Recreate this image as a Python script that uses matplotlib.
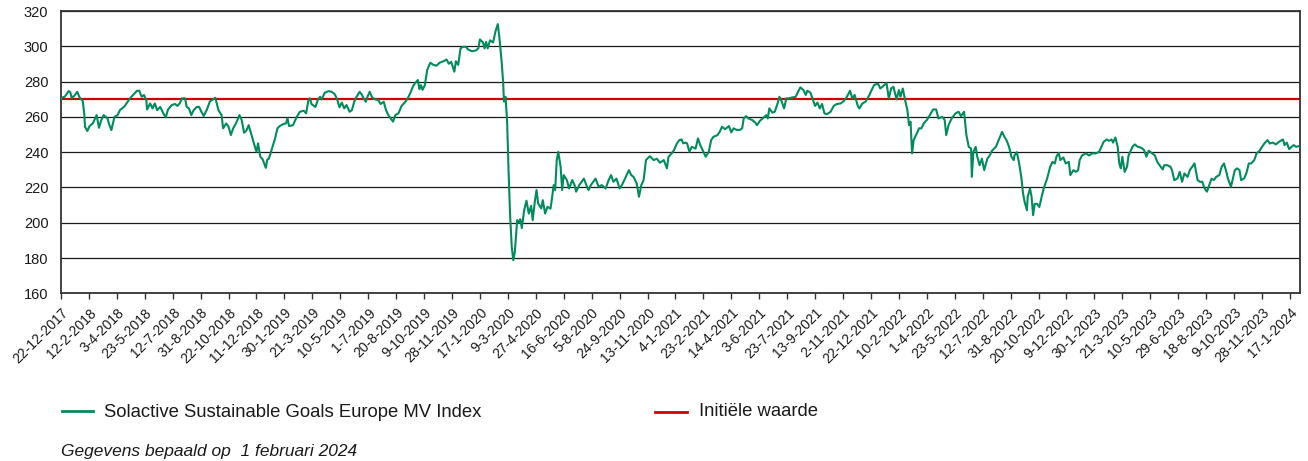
import matplotlib
matplotlib.use("Agg")
import matplotlib.pyplot as plt
from matplotlib.lines import Line2D
import pandas as pd

plt.rcParams['font.family'] = ['Liberation Sans', 'DejaVu Sans']

# ---------------- data ----------------
start_date = "2017-12-22"
end_date = "2024-02-01"
initial_value = 270
series_label = "Solactive Sustainable Goals Europe MV Index"
initial_label = "Initiële waarde"
footnote = "Gegevens bepaald op  1 februari 2024"

# trading-day number (business days since 22-12-2017) and index level
trading_day = [
    0, 2, 5, 10, 12, 14, 18, 21, 24, 28, 30, 31, 34, 37, 41, 46, 49, 52, 55, 60,
    62, 65, 67, 69, 73, 76, 82, 89, 93, 98, 101, 104, 107, 110, 111, 115, 118, 121, 124, 128,
    132, 135, 138, 143, 147, 150, 153, 156, 160, 162, 165, 168, 171, 175, 178, 181, 184, 188, 192, 196,
    199, 203, 207, 209, 213, 216, 219, 222, 226, 230, 233, 236, 239, 242, 246, 250, 252, 254, 257, 260,
    264, 266, 268, 272, 276, 279, 282, 287, 290, 292, 294, 299, 304, 308, 313, 316, 319, 321, 323, 328,
    331, 334, 336, 340, 345, 349, 353, 356, 359, 362, 365, 368, 372, 375, 378, 381, 385, 388, 390, 393,
    395, 398, 401, 405, 409, 412, 416, 419, 422, 425, 428, 431, 435, 439, 444, 448, 450, 454, 456, 460,
    462, 464, 466, 469, 472, 476, 480, 484, 488, 493, 497, 500, 503, 505, 507, 509, 512, 515, 518, 522,
    525, 530, 535, 538, 540, 544, 546, 548, 550, 553, 557, 560, 563, 565, 568, 570, 571, 573, 575, 577,
    579, 581, 583, 585, 588, 590, 592, 594, 597, 600, 603, 606, 608, 611, 613, 615, 619, 621, 624, 627,
    631, 633, 635, 637, 639, 641, 644, 646, 648, 652, 655, 659, 662, 664, 668, 674, 678, 680, 683, 689,
    693, 697, 702, 706, 709, 712, 716, 720, 723, 727, 732, 735, 738, 742, 745, 748, 751, 754, 759, 764,
    768, 772, 777, 781, 783, 787, 790, 794, 797, 800, 802, 805, 807, 810, 813, 818, 821, 824, 828, 831,
    835, 838, 841, 846, 849, 852, 856, 861, 864, 867, 871, 875, 878, 880, 883, 886, 891, 895, 897, 901,
    906, 909, 911, 913, 917, 920, 923, 926, 929, 932, 935, 938, 942, 947, 950, 953, 957, 960, 962, 966,
    969, 972, 975, 978, 981, 984, 987, 992, 996, 1000, 1005, 1009, 1013, 1017, 1020, 1023, 1027, 1029, 1033, 1037,
    1042, 1045, 1048, 1053, 1056, 1060, 1064, 1067, 1070, 1073, 1077, 1080, 1082, 1085, 1088, 1091, 1093, 1095, 1097, 1099,
    1103, 1106, 1109, 1112, 1116, 1120, 1124, 1128, 1131, 1136, 1139, 1141, 1144, 1148, 1153, 1157, 1160, 1164, 1167, 1170,
    1173, 1174, 1176, 1179, 1181, 1184, 1187, 1190, 1194, 1197, 1200, 1205, 1209, 1213, 1216, 1219, 1222, 1225, 1228, 1229,
    1232, 1235, 1238, 1240, 1242, 1245, 1246, 1249, 1251, 1253, 1255, 1258, 1261, 1265, 1268, 1271, 1275, 1278, 1281, 1283,
    1286, 1288, 1292, 1295, 1299, 1301, 1305, 1308, 1311, 1313, 1316, 1321, 1325, 1329, 1334, 1338, 1341, 1344, 1348, 1351,
    1354, 1356, 1359, 1362, 1364, 1366, 1368, 1371, 1374, 1376, 1381, 1384, 1388, 1392, 1396, 1399, 1402, 1406, 1410, 1413,
    1416, 1420, 1422, 1426, 1430, 1432, 1435, 1439, 1442, 1445, 1448, 1452, 1455, 1458, 1461, 1465, 1468, 1471, 1474, 1477,
    1480, 1483, 1486, 1489, 1493, 1496, 1499, 1502, 1504, 1508, 1510, 1513, 1516, 1519, 1521, 1525, 1528, 1531, 1534, 1538,
    1541, 1545, 1548, 1551, 1555, 1558, 1562, 1566, 1570, 1575, 1577, 1580, 1583, 1586, 1589, 1592, 1595,
]
index_value = [
    270, 271, 271.5, 274.6, 274, 270.5, 272.4, 274.2, 271, 269.1, 262, 254.4, 252, 254.8, 256.3, 261, 253.8, 258.2, 261, 259.1,
    256, 252.5, 256.3, 260, 261, 263.8, 266, 270.5, 272.4, 274.8, 274.8, 271.4, 272.4, 269.5, 264.2, 267.6, 264.8, 267.6, 263.8, 265.6,
    262, 259.7, 264.2, 266.7, 267.3, 266.2, 267.6, 270.5, 270.5, 265.7, 264.8, 261, 263.8, 265.6, 265.7, 262.9, 260.5, 264, 268.8, 269.9,
    270.8, 263.8, 261, 253.5, 256.3, 254.4, 249.7, 253.5, 256.7, 261, 258.2, 251, 252.3, 255.3, 249.1, 243, 240.2, 245, 237.4, 235.9,
    231.1, 235.9, 236.3, 242.1, 247.8, 253.5, 254.8, 256, 256.3, 259.1, 254.8, 255.3, 260, 262.9, 263.5, 262, 269.5, 270.5, 267.2, 265.6,
    269.5, 271.4, 269.9, 273.7, 274.6, 274.2, 272.8, 269.9, 265.4, 268.1, 264.8, 266.7, 262.9, 263.8, 268.6, 271.4, 274.2, 272.4, 270.5, 268.6,
    271.4, 274.2, 271, 269.9, 269.5, 267.3, 268.6, 263.8, 261, 259.1, 257.3, 261, 262, 266.2, 268.6, 271.4, 273.3, 277.5, 278.9, 280.9,
    275.7, 278, 275.3, 278, 286.5, 290.7, 289.5, 289, 290.7, 291.5, 292.5, 290.1, 291.2, 288.3, 285.6, 291.5, 289.5, 298.8, 299.7, 299.7,
    298.1, 297.2, 297.7, 298.8, 303.9, 302.2, 298.8, 302.5, 298.8, 303.4, 302.2, 308.3, 312.6, 305.4, 291.2, 279, 268.6, 271.4, 258.2, 228,
    203.3, 186.3, 178.8, 183.5, 201.5, 200, 202, 197, 207, 212.5, 205.2, 209.6, 201.5, 212.8, 218.5, 211, 208.1, 212.8, 205.2, 209,
    208, 214.2, 221.3, 218.5, 235.5, 240.2, 231.7, 218.5, 227, 224.2, 219.4, 224.2, 221.3, 217.6, 221.3, 225, 220.4, 218.5, 221.3, 225,
    220.4, 221.3, 219.4, 224.2, 227, 223.2, 225, 219.4, 221.3, 225, 229.8, 227, 226, 222.3, 214.7, 221.3, 224.2, 235.5, 237.7, 235.5,
    236.3, 234, 235.5, 230.8, 237.2, 239.3, 241, 245, 246.8, 247.2, 245, 245.4, 245, 240.2, 243, 242, 247.8, 244, 240.2, 237.4,
    240.2, 246.8, 248.7, 249.6, 251.5, 254.4, 253, 254.8, 251.2, 253.5, 252.6, 252.6, 253.5, 259.1, 260.4, 259.1, 258.2, 256.7, 255.3, 257.8,
    259.7, 261, 259.1, 264.8, 262.4, 262.9, 266.7, 271.4, 268.6, 264.8, 270.5, 270.5, 271, 271.4, 274.2, 276.7, 275.2, 272.4, 274.8, 273.7,
    269.9, 266.2, 268.1, 264.8, 267.3, 262, 261.5, 262.9, 266.2, 267.3, 267.6, 269, 271.4, 274.8, 270.5, 272.4, 266.2, 264.8, 267.6, 268.6,
    272.4, 275.3, 278, 278.9, 276.1, 277.5, 279.3, 270.5, 276.1, 277, 269.9, 275.2, 271.4, 276.1, 269.5, 263.8, 255.3, 257.3, 239.3, 246.8,
    250.5, 253.5, 253.5, 256.3, 258.2, 261, 264.2, 264.2, 259.1, 260, 258.2, 249.7, 255.3, 259.1, 262, 262.9, 260.4, 262.9, 249.7, 243,
    242.1, 226, 240.2, 243, 237.4, 232.6, 236.3, 229.8, 236.3, 238.1, 240.8, 243, 247.2, 251.5, 248.7, 246.5, 243, 237.4, 235.5, 238.1,
    240, 233.6, 225.1, 216.6, 211.9, 207.1, 214.7, 219.4, 214.7, 204.3, 210.7, 210.7, 208.9, 216.6, 221.3, 225, 231.7, 234.5, 233.6, 237.4,
    239.6, 235.5, 237, 233.6, 234.5, 227, 229.8, 228.8, 229.8, 235.5, 238.1, 239.3, 238.1, 239.3, 239.3, 240.2, 243, 245.9, 247.2, 246.4,
    247.2, 245.4, 248.3, 243, 233.6, 230.8, 237.4, 228.8, 231.7, 238.1, 243, 244.4, 243, 242.6, 241.2, 237.4, 240.8, 239.5, 238.1, 234.5,
    232.6, 230.2, 232.6, 232.6, 231.7, 229.8, 224.1, 225.1, 228.8, 223.2, 227.9, 226, 229.8, 231.7, 233.6, 224.1, 223.2, 223.2, 219.4, 217.6,
    221.3, 225, 224.2, 226, 227, 231.7, 233.6, 228.8, 225.1, 220.4, 224.2, 229.8, 230.8, 229.8, 224.2, 225.1, 228.3, 233.6, 233.6, 235.5,
    239.3, 240.8, 243, 244.9, 246.8, 244.9, 245.4, 244.4, 245.9, 247.2, 244, 245.4, 241.7, 243, 244, 243, 243.4,
]

tick_labels = [
    "22-12-2017", "12-2-2018", "3-4-2018", "23-5-2018", "12-7-2018", "31-8-2018", "22-10-2018",
    "11-12-2018", "30-1-2019", "21-3-2019", "10-5-2019", "1-7-2019", "20-8-2019", "9-10-2019",
    "28-11-2019", "17-1-2020", "9-3-2020", "27-4-2020", "16-6-2020", "5-8-2020", "24-9-2020",
    "13-11-2020", "4-1-2021", "23-2-2021", "14-4-2021", "3-6-2021", "23-7-2021", "13-9-2021",
    "2-11-2021", "22-12-2021", "10-2-2022", "1-4-2022", "23-5-2022", "12-7-2022", "31-8-2022",
    "20-10-2022", "9-12-2022", "30-1-2023", "21-3-2023", "10-5-2023", "29-6-2023", "18-8-2023",
    "9-10-2023", "28-11-2023", "17-1-2024",
]
tick_step_days = 36
y_ticks = [160, 180, 200, 220, 240, 260, 280, 300, 320]

# ---------------- plot ----------------
bdays = pd.bdate_range(start_date, end_date)
n_days = len(bdays)

fig = plt.figure(figsize=(13.08, 4.61), dpi=100)
ax = fig.add_axes([0.0466, 0.3638, 0.9473, 0.6123])

green = "#008c5c"
red = "#d40000"

ax.plot(trading_day, index_value, color=green, lw=1.5, zorder=3)
ax.axhline(initial_value, color=red, lw=1.6, zorder=2)

ax.set_xlim(0, n_days + 2)
ax.set_ylim(y_ticks[0], y_ticks[-1])
ax.set_yticks(y_ticks)
ax.set_yticklabels([str(v) for v in y_ticks])
ax.yaxis.grid(True, color="#1a1a1a", lw=0.9)
ax.set_axisbelow(True)

ax.set_xticks([i * tick_step_days for i in range(len(tick_labels))])
ax.set_xticklabels(tick_labels, rotation=45, ha="right", va="top",
                   rotation_mode="anchor")

ax.tick_params(axis="y", length=0, pad=9, labelsize=10.5, labelcolor="#1a1a1a")
ax.tick_params(axis="x", length=4, width=1, color="#333333", pad=5,
               labelsize=10, labelcolor="#1a1a1a", direction="out")
for s in ax.spines.values():
    s.set_color("#333333")
    s.set_linewidth(1.3)

# legend drawn manually
fig.add_artist(Line2D([0.0474, 0.0711], [0.1085, 0.1085], color=green, lw=2.0,
                      transform=fig.transFigure))
fig.text(0.0795, 0.0955, series_label, fontsize=13.3, color="#1a1a1a", va="baseline")
fig.add_artist(Line2D([0.5008, 0.5252], [0.1063, 0.1063], color=red, lw=2.0,
                      transform=fig.transFigure))
fig.text(0.5344, 0.0976, initial_label, fontsize=13.3, color="#1a1a1a", va="baseline")

fig.text(0.0466, 0.0115, footnote, fontsize=12.5, style="italic", color="#1a1a1a",
         va="baseline")

fig.savefig("out.png", dpi=100)
